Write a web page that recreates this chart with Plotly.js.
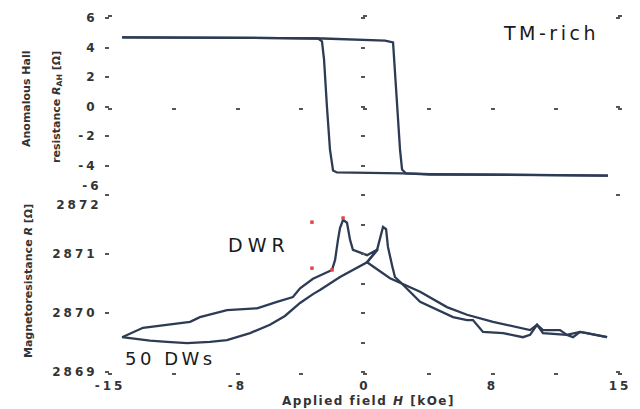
<!DOCTYPE html>
<html>
<head>
<meta charset="utf-8">
<script src="https://cdn.plot.ly/plotly-3.0.1.min.js"></script>
<style>html,body{margin:0;padding:0;background:#fff;}#chart{width:640px;height:409px;}</style>
</head>
<body>
<div id="chart"></div>
<script>
// ---- Top panel: anomalous Hall resistance loop (field sweep up, then down)
const hallUpH = [-14.29, -9.71, -5.0, -2.47, -0.29, 1.18, 1.65, 1.71, 1.88, 2.06, 2.18, 2.41, 3.82, 7.94, 14.29];
const hallUpR = [4.68, 4.68, 4.64, 4.61, 4.54, 4.47, 4.34, 3.19, 0, -2.92, -4.27, -4.54, -4.61, -4.64, -4.68];
const hallDownH = [14.29, 7.94, 3.82, 2.18, 0.29, -1.65, -1.88, -2.06, -2.24, -2.41, -2.53, -2.76, -5.0, -9.71, -14.29];
const hallDownR = [-4.68, -4.64, -4.58, -4.54, -4.51, -4.47, -4.34, -2.92, 0, 3.19, 4.41, 4.61, 4.64, 4.68, 4.68];

// ---- Bottom panel: magnetoresistance (field sweep up, then down)
const mrUpH = [-14.29, -13.53, -12.65, -11.65, -10.47, -9.12, -8.12, -6.76, -5.59, -4.71, -3.82, -3.06, -2.65, -1.47, -0.47, 0.12, 0.71, 0.88, 1.06, 1.24, 1.35, 1.59, 1.76, 2.06, 3.24, 5.18, 6.0, 6.35, 6.94, 8.12, 9.29, 9.71, 10.12, 10.47, 11.88, 12.24, 12.65, 13.06, 14.24];
const mrUpR = [2869.59, 2869.56, 2869.53, 2869.51, 2869.49, 2869.51, 2869.54, 2869.66, 2869.80, 2869.95, 2870.17, 2870.32, 2870.39, 2870.61, 2870.76, 2870.86, 2871.07, 2871.24, 2871.46, 2871.42, 2871.12, 2870.81, 2870.61, 2870.53, 2870.19, 2869.93, 2869.88, 2869.88, 2869.68, 2869.66, 2869.59, 2869.63, 2869.80, 2869.66, 2869.63, 2869.59, 2869.68, 2869.66, 2869.59];
const mrDownH = [14.24, 13.06, 12.65, 11.88, 11.47, 10.47, 10.12, 9.71, 7.53, 6.0, 4.82, 3.24, 2.35, 1.47, 0.12, 0.76, 0.12, -0.71, -0.88, -1.06, -1.29, -1.47, -1.59, -1.76, -1.94, -3.06, -3.82, -4.24, -5.18, -6.35, -8.12, -9.71, -10.29, -13.06, -14.29];
const mrDownR = [2869.59, 2869.66, 2869.68, 2869.63, 2869.71, 2869.71, 2869.80, 2869.71, 2869.85, 2869.97, 2870.10, 2870.36, 2870.47, 2870.59, 2870.86, 2871.08, 2870.98, 2871.07, 2871.24, 2871.53, 2871.58, 2871.44, 2871.24, 2870.90, 2870.73, 2870.58, 2870.42, 2870.27, 2870.19, 2870.08, 2870.05, 2869.93, 2869.85, 2869.75, 2869.59];

// small red marks
const redH = [-3.12, -3.12, -1.94, -1.29];
const redR = [2871.54, 2870.76, 2870.73, 2871.61];

// ---- Ticks
const xTickVals = [-15, -11.25, -7.5, -3.75, 0, 3.75, 7.5, 11.25, 15];
const xTickText = ['-15', ' ', '-8', ' ', '0', ' ', '8', ' ', '15'];
const hallTickVals = [-4, -2, 0, 2, 4, 6];
const hallTickText = ['-4', '-2', '0', '2', '4', '6'];
const hallMinorVals = [-6, -4, -2, 0, 2, 4, 6];
const mrTickVals = [2869, 2870, 2871];
const mrTickText = ['2869', '2870', '2871'];
const mrMinorVals = [2869, 2869.5, 2870, 2870.5, 2871, 2871.5, 2872];

const sp = s => s.trim() === '' ? ' ' : '<span style="letter-spacing:3px">' + s + '</span>';

const lineCol = '#2d3b55';
const tickCol = '#555';
const tickFont = {family: 'DejaVu Sans', size: 12, weight: 'bold', color: '#333'};

const traces = [
  {x: hallUpH, y: hallUpR, xaxis: 'x2', yaxis: 'y2', mode: 'lines', line: {color: lineCol, width: 2.3}},
  {x: hallDownH, y: hallDownR, xaxis: 'x2', yaxis: 'y2', mode: 'lines', line: {color: lineCol, width: 2.3}},
  {x: mrUpH, y: mrUpR, xaxis: 'x', yaxis: 'y', mode: 'lines', line: {color: lineCol, width: 2.3}},
  {x: mrDownH, y: mrDownR, xaxis: 'x', yaxis: 'y', mode: 'lines', line: {color: lineCol, width: 2.3}},
  {x: redH, y: redR, xaxis: 'x', yaxis: 'y', mode: 'markers', marker: {color: '#e04848', size: 3.5, symbol: 'square'}},
  // empty traces that register the decoration axes
  {x: [], y: [], xaxis: 'x3', yaxis: 'y2', mode: 'lines'},
  {x: [], y: [], xaxis: 'x2', yaxis: 'y3', mode: 'lines'},
  {x: [], y: [], xaxis: 'x2', yaxis: 'y4', mode: 'lines'},
  {x: [], y: [], xaxis: 'x', yaxis: 'y5', mode: 'lines'},
  {x: [], y: [], xaxis: 'x', yaxis: 'y6', mode: 'lines'},
  {x: [], y: [], xaxis: 'x2', yaxis: 'y7', mode: 'lines'},
  {x: [], y: [], xaxis: 'x', yaxis: 'y8', mode: 'lines'}
];

const base = {showgrid: false, zeroline: false, showline: false, fixedrange: true, tickcolor: tickCol};
const xTickStyle = {ticks: 'outside', ticklen: 2, tickwidth: 4};
const yTickStyle = {ticks: 'outside', ticklen: 4, tickwidth: 2};

const P = (px) => (px - 110) / 510;   // paper x from pixel
const Q = (py) => (372 - py) / 354;   // paper y from pixel

const layout = {
  width: 640, height: 409,
  margin: {l: 110, r: 20, t: 18, b: 37},
  paper_bgcolor: '#fff', plot_bgcolor: '#fff',
  showlegend: false,
  xaxis: Object.assign({}, base, xTickStyle, {range: [-15, 15], anchor: 'y', tickmode: 'array', tickvals: xTickVals, ticktext: xTickText.map(sp), tickfont: tickFont, ticklabelstandoff: 1}),
  xaxis2: Object.assign({}, base, xTickStyle, {range: [-15, 15], anchor: 'y2', side: 'top', tickmode: 'array', tickvals: [-15, 0, 15], showticklabels: false}),
  xaxis3: Object.assign({}, base, xTickStyle, {range: [-15, 15], overlaying: 'x2', anchor: 'free', position: 0.75, tickmode: 'array', tickvals: xTickVals, showticklabels: false}),
  yaxis: Object.assign({}, base, yTickStyle, {domain: [0, 0.5], range: [2869, 2872], anchor: 'x', tickmode: 'array', tickvals: mrTickVals, ticktext: mrTickText.map(sp), tickfont: tickFont, ticklabelstandoff: 5}),
  yaxis2: Object.assign({}, base, yTickStyle, {domain: [0.5, 1], range: [-6, 6], anchor: 'x2', tickmode: 'array', tickvals: hallTickVals, ticktext: hallTickText.map(sp), tickfont: tickFont, ticklabelstandoff: 5}),
  yaxis3: Object.assign({}, base, yTickStyle, {range: [-6, 6], overlaying: 'y2', anchor: 'free', position: 0.5, tickmode: 'array', tickvals: hallMinorVals, showticklabels: false}),
  yaxis4: Object.assign({}, base, yTickStyle, {range: [-6, 6], overlaying: 'y2', anchor: 'free', position: 1, tickmode: 'array', tickvals: [-6, 0, 6], showticklabels: false}),
  yaxis5: Object.assign({}, base, yTickStyle, {range: [2869, 2872], overlaying: 'y', anchor: 'free', position: 0.5, tickmode: 'array', tickvals: mrMinorVals, showticklabels: false}),
  yaxis6: Object.assign({}, base, yTickStyle, {range: [2869, 2872], overlaying: 'y', anchor: 'free', position: 1, tickmode: 'array', tickvals: [2869, 2872], showticklabels: false}),
  yaxis7: Object.assign({}, base, yTickStyle, {range: [-6, 6], overlaying: 'y2', anchor: 'x2', tickmode: 'array', tickvals: [-6], ticktext: [sp('-6')], ticklabelposition: 'outside top', tickfont: tickFont, ticklabelstandoff: 5}),
  yaxis8: Object.assign({}, base, yTickStyle, {range: [2869, 2872], overlaying: 'y', anchor: 'x', tickmode: 'array', tickvals: [2872], ticktext: [sp('2872')], ticklabelposition: 'outside bottom', tickfont: tickFont, ticklabelstandoff: 5}),
  annotations: [
    {xref: 'paper', yref: 'paper', x: P(551), y: Q(33), text: '<span style="letter-spacing:3.5px">TM-rich</span>', showarrow: false, xanchor: 'center', yanchor: 'middle', font: {family: 'DejaVu Sans', size: 19, color: '#1a1a1a'}},
    {xref: 'paper', yref: 'paper', x: P(259), y: Q(245), text: '<span style="letter-spacing:5px">DWR</span>', showarrow: false, xanchor: 'center', yanchor: 'middle', font: {family: 'DejaVu Sans', size: 19, color: '#1a1a1a'}},
    {xref: 'paper', yref: 'paper', x: P(170), y: Q(358), text: '<span style="letter-spacing:3.5px">50 DWs</span>', showarrow: false, xanchor: 'center', yanchor: 'middle', font: {family: 'DejaVu Sans', size: 18, color: '#1a1a1a'}},
    {xref: 'paper', yref: 'paper', x: P(368), y: Q(401), text: '<span style="letter-spacing:1.5px">Applied field <i>H</i> [kOe]</span>', showarrow: false, xanchor: 'center', yanchor: 'middle', font: {family: 'DejaVu Sans', size: 12, weight: 'bold', color: '#333'}},
    {xref: 'paper', yref: 'paper', x: P(27), y: Q(99), text: 'Anomalous Hall', textangle: -90, showarrow: false, xanchor: 'center', yanchor: 'middle', font: {family: 'DejaVu Sans', size: 11, weight: 'bold', color: '#333'}},
    {xref: 'paper', yref: 'paper', x: P(57), y: Q(107), text: 'resistance <i>R</i><sub>AH</sub> [Ω]', textangle: -90, showarrow: false, xanchor: 'center', yanchor: 'middle', font: {family: 'DejaVu Sans', size: 11, weight: 'bold', color: '#333'}},
    {xref: 'paper', yref: 'paper', x: P(28), y: Q(281), text: 'Magnetoresistance <i>R</i> [Ω]', textangle: -90, showarrow: false, xanchor: 'center', yanchor: 'middle', font: {family: 'DejaVu Sans', size: 11, weight: 'bold', color: '#333'}}
  ]
};

Plotly.newPlot('chart', traces, layout, {displayModeBar: false, staticPlot: true});
</script>
</body>
</html>
